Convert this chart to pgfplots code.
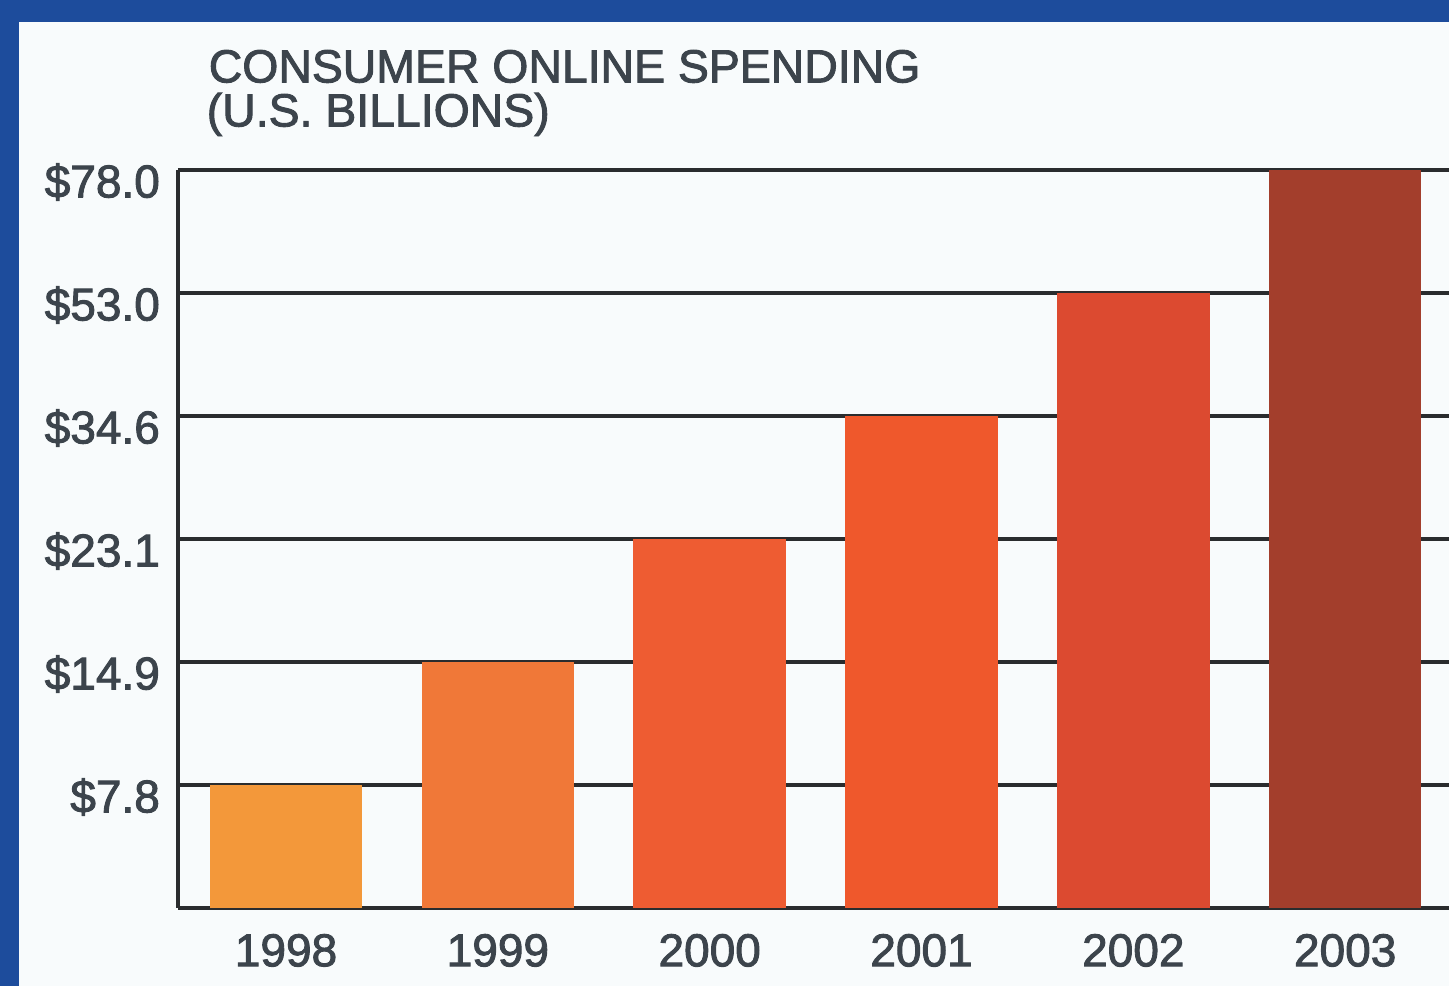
\documentclass[border=0pt]{standalone}
\usepackage{fontspec}
\setmainfont{Liberation Sans}[FakeBold=2]
\usepackage{pgfplots}
\pgfplotsset{compat=1.18}
\definecolor{bgblue}{HTML}{1D4C9C}
\definecolor{panel}{HTML}{F8FBFC}
\definecolor{txt}{HTML}{3C444C}
\definecolor{gridc}{HTML}{2A2C2E}
\definecolor{c1}{HTML}{F3983A}
\definecolor{c2}{HTML}{F07838}
\definecolor{c3}{HTML}{EE5C32}
\definecolor{c4}{HTML}{EF582C}
\definecolor{c5}{HTML}{DC4A30}
\definecolor{c6}{HTML}{A33E2C}
\begin{document}
\begin{tikzpicture}[x=1pt,y=1pt]
\useasboundingbox (0,0) rectangle (362.25,246.5);
\fill[bgblue] (0,0) rectangle (362.25,246.5);
\fill[panel] (4.75,0) rectangle (362.25,241.0);
\node[anchor=base west, inner sep=0pt, text=txt, font=\fontsize{11.6}{12}\selectfont] at (52,225.9) {CONSUMER ONLINE SPENDING};
\node[anchor=base west, inner sep=0pt, text=txt, font=\fontsize{11.6}{12}\selectfont] at (51.5,214.9) {(U.S. BILLIONS)};
\begin{axis}[
  at={(44.5pt,19.5pt)}, anchor=south west,
  scale only axis, width=317.75pt, height=184.5pt,
  xmin=-0.51, xmax=5.49, ymin=0, ymax=6,
  axis x line*=bottom, axis y line*=left,
  axis line style={gridc, line width=1pt},
  ybar, bar width=0.72, bar shift=0pt,
  xtick={0,1,2,3,4,5},
  xticklabels={1998,1999,2000,2001,2002,2003},
  ytick={1,2,3,4,5,6},
  yticklabels={\$7.8,\$14.9,\$23.1,\$34.6,\$53.0,\$78.0},
  major tick length=0pt,
  ymajorgrids, grid style={gridc, line width=1pt},
  ticklabel style={text=txt, font=\fontsize{11.5}{12}\selectfont},
  yticklabel style={yshift=-3pt, xshift=-1pt},
  xticklabel style={yshift=-3pt},
]
\addplot[fill=c1, draw=none] coordinates {(0,1)};
\addplot[fill=c2, draw=none] coordinates {(1,2)};
\addplot[fill=c3, draw=none] coordinates {(2,3)};
\addplot[fill=c4, draw=none] coordinates {(3,4)};
\addplot[fill=c5, draw=none] coordinates {(4,5)};
\addplot[fill=c6, draw=none] coordinates {(5,6)};
\end{axis}
\end{tikzpicture}
\end{document}
